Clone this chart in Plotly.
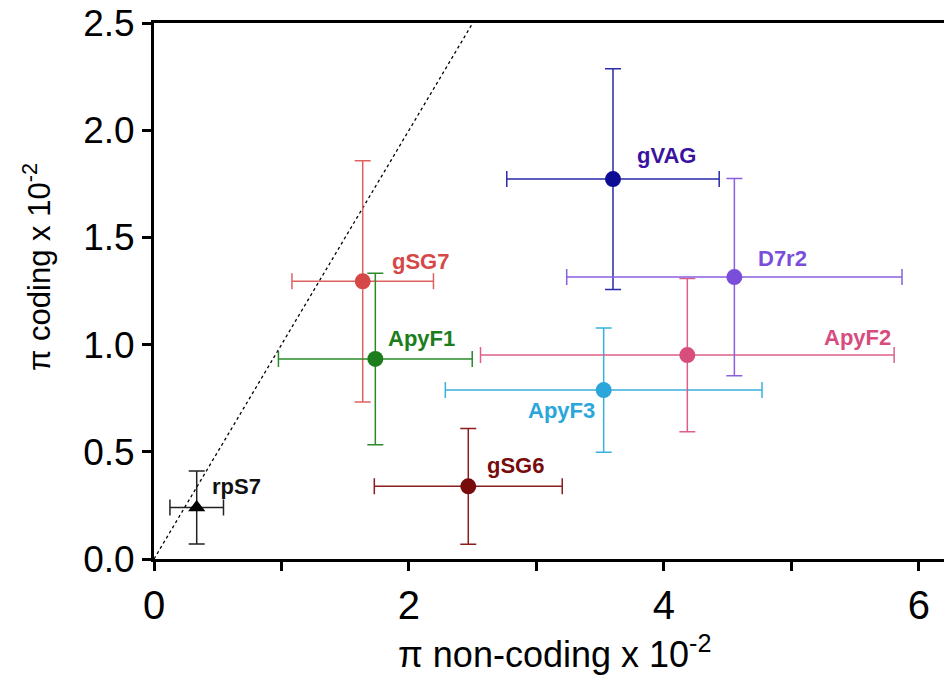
import plotly.graph_objects as go

# ---- data ----
genes = ["rpS7", "gSG7", "ApyF1", "gSG6", "ApyF3", "ApyF2", "gVAG", "D7r2"]
pi_noncoding = [0.335, 1.637, 1.736, 2.465, 3.527, 4.183, 3.600, 4.552]
pi_noncoding_err = [0.21, 0.555, 0.76, 0.737, 1.242, 1.622, 0.833, 1.315]
pi_coding = [0.24, 1.295, 0.933, 0.339, 0.788, 0.951, 1.772, 1.315]
pi_coding_err = [0.17, 0.563, 0.40, 0.27, 0.29, 0.357, 0.515, 0.46]
diag_x = [0, 2.5]
diag_y = [0, 2.5]
x_tick_vals = [0, 2, 4, 6]
x_tick_text = ["0", "2", "4", "6"]
x_minor_tick_vals = [1, 3, 5]
y_tick_vals = [0, 0.5, 1.0, 1.5, 2.0, 2.5]
y_tick_text = ["0.0", "0.5", "1.0", "1.5", "2.0", "2.5"]

# ---- styles ----
marker_colors = {"rpS7": "#000000", "gSG7": "#d64848", "ApyF1": "#1c7d1c", "gSG6": "#780c0c",
                 "ApyF3": "#2aa6da", "ApyF2": "#d64d7e", "gVAG": "#0c0c94", "D7r2": "#7b4ddb"}
bar_colors = {"rpS7": "#222222", "gSG7": "#e06060", "ApyF1": "#2a8a2a", "gSG6": "#8a1e1e",
              "ApyF3": "#3ab0e0", "ApyF2": "#dd6088", "gVAG": "#2a2aaa", "D7r2": "#8a60e0"}
label_colors = {"rpS7": "#111111", "gSG7": "#d64848", "ApyF1": "#1c7d1c", "gSG6": "#780c0c",
                "ApyF3": "#2aa6da", "ApyF2": "#d64d7e", "gVAG": "#3a12a0", "D7r2": "#7b4ddb"}
# label offsets in pixels relative to the point: (xanchor, xshift, yshift)
label_offsets = {"rpS7": ("left", 13, 21), "gSG7": ("left", 27, 20), "ApyF1": ("left", 11, 20),
                 "gSG6": ("left", 17, 21), "ApyF3": ("right", -7, -20), "ApyF2": ("left", 135, 18),
                 "gVAG": ("left", 22, 24), "D7r2": ("left", 22, 19)}

FONT = "Liberation Sans, Arial, sans-serif"

fig = go.Figure()

fig.add_trace(go.Scatter(x=diag_x, y=diag_y, mode="lines",
                         line=dict(color="black", width=1.3, dash="dot"),
                         showlegend=False, hoverinfo="skip"))

for i, g in enumerate(genes):
    fig.add_trace(go.Scatter(
        x=[pi_noncoding[i]], y=[pi_coding[i]], mode="markers", name=g, showlegend=False,
        marker=dict(color=marker_colors[g], size=16 if g != "rpS7" else 15,
                    symbol="triangle-up" if g == "rpS7" else "circle", line=dict(width=0)),
        error_x=dict(type="data", array=[pi_noncoding_err[i]], color=bar_colors[g], thickness=1.5, width=8),
        error_y=dict(type="data", array=[pi_coding_err[i]], color=bar_colors[g], thickness=1.5, width=8),
    ))
    xa, xs, ys = label_offsets[g]
    fig.add_annotation(x=pi_noncoding[i], y=pi_coding[i], text="<b>%s</b>" % g, showarrow=False,
                       xanchor=xa, yanchor="middle", xshift=xs, yshift=ys,
                       font=dict(family=FONT, size=22, color=label_colors[g]))

fig.add_annotation(x=0.5025, y=-0.173, xref="paper", yref="paper", xanchor="center", yanchor="middle",
                   text="\u03c0 non-coding x 10<sup>-2</sup>", showarrow=False,
                   font=dict(family=FONT, size=36, color="black"))
fig.add_annotation(x=-0.1466, y=0.545, xref="paper", yref="paper", xanchor="center", yanchor="middle",
                   text="\u03c0 coding x 10<sup>-2</sup>", showarrow=False, textangle=-90,
                   font=dict(family=FONT, size=31, color="black"))

fig.update_xaxes(range=[0, 6.259], tickvals=x_tick_vals, ticktext=x_tick_text,
                 showline=True, linecolor="black", linewidth=3, mirror=True,
                 ticks="outside", ticklen=9, tickwidth=3, tickcolor="black",
                 minor=dict(tickvals=x_minor_tick_vals, ticks="outside", ticklen=9,
                            tickwidth=3, tickcolor="black", showgrid=False),
                 showgrid=False, zeroline=False, automargin=False, ticklabeloverflow="allow",
                 tickfont=dict(family=FONT, size=40, color="black"))
fig.update_yaxes(range=[0, 2.5], tickvals=y_tick_vals, ticktext=y_tick_text,
                 showline=True, linecolor="black", linewidth=3,
                 ticks="outside", ticklen=9, tickwidth=3, tickcolor="black",
                 showgrid=False, zeroline=False, automargin=False, ticklabeloverflow="allow",
                 tickfont=dict(family=FONT, size=37, color="black"))

# the page body adds an 8px offset, so the figure is 8px smaller than the window
fig.update_layout(width=944, height=672, margin=dict(l=146, r=0, t=15, b=121),
                  plot_bgcolor="white", paper_bgcolor="white", showlegend=False)

fig.write_html("out.html")
